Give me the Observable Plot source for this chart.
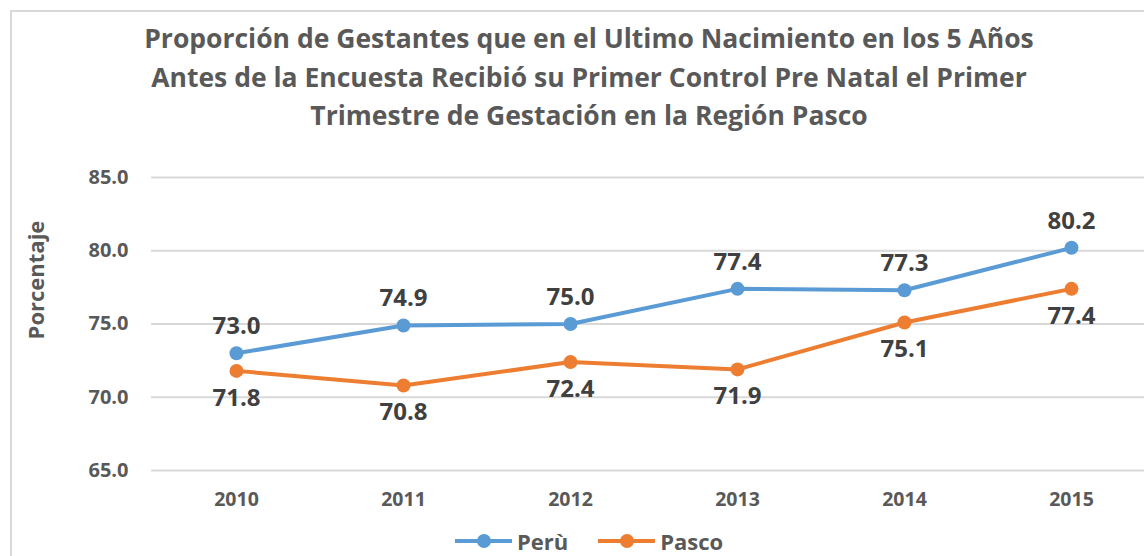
<!DOCTYPE html>
<html><head><meta charset="utf-8">
<script src="https://cdn.jsdelivr.net/npm/d3@7"></script>
<script src="https://cdn.jsdelivr.net/npm/@observablehq/plot@0.6"></script>
<style>
body{margin:0;width:1144px;height:556px;overflow:hidden;background:#fff;font-family:"Open Sans",sans-serif;position:relative}
#frame{position:absolute;left:10px;top:10px;width:1200px;height:600px;border:2px solid #d9d9d9;box-sizing:border-box}
#title{position:absolute;left:0;top:19px;width:1178px;text-align:center;font-weight:bold;font-size:26.5px;line-height:38.5px;color:#595959}
#chart{position:absolute;left:0;top:140px}
#ylabel{position:absolute;left:35px;top:280px;transform:translate(-50%,-50%) rotate(-90deg);font-weight:bold;font-size:22px;color:#595959;white-space:nowrap}
#legend{position:absolute;left:455px;top:528px;display:flex;align-items:center;font-weight:bold;font-size:22px;line-height:26px;color:#595959}
#legend .item{display:flex;align-items:center;margin-right:30px}
#legend .item span{margin-left:5px}
</style>
</head><body>
<div id="frame"></div>
<div id="title">Proporción de Gestantes que en el Ultimo Nacimiento en los 5 Años<br>Antes de la Encuesta Recibió su Primer Control Pre Natal el Primer<br>Trimestre de Gestación en la Región Pasco</div>
<div id="ylabel">Porcentaje</div>
<div id="chart"></div>
<div id="legend"></div>
<script>
const years = ["2010", "2011", "2012", "2013", "2014", "2015"];
const peru = [73.0, 74.9, 75.0, 77.4, 77.3, 80.2];
const pasco = [71.8, 70.8, 72.4, 71.9, 75.1, 77.4];
const seriesNames = ["Perù", "Pasco"];
const seriesColors = ["#5B9BD5", "#ED7D31"];
const yTicks = [65, 70, 75, 80, 85];

const peruData = years.map((year, i) => ({year, serie: seriesNames[0], value: peru[i]}));
const pascoData = years.map((year, i) => ({year, serie: seriesNames[1], value: pasco[i]}));
const data = peruData.concat(pascoData);

const chart = Plot.plot({
  width: 1144,
  height: 390,
  marginLeft: 151,
  marginRight: 0,
  marginTop: 37,
  marginBottom: 60,
  x: {type: "point", domain: years, range: [234, 1072], padding: 0},
  y: {domain: [65, 85]},
  color: {domain: seriesNames, range: seriesColors},
  style: {fontFamily: "Open Sans", fontWeight: "bold", fontSize: "20px", color: "#595959", background: "transparent", overflow: "visible"},
  marks: [
    Plot.ruleY(yTicks, {stroke: "#d9d9d9", strokeWidth: 2}),
    Plot.axisY({ticks: yTicks, tickFormat: d => d.toFixed(1), tickSize: 0, tickPadding: 23, label: null, fontSize: 20, fill: "#595959"}),
    Plot.axisX({tickSize: 0, tickPadding: 22, label: null, fontSize: 19.5, fill: "#595959"}),
    Plot.line(data, {x: "year", y: "value", z: "serie", stroke: "serie", strokeWidth: 4}),
    Plot.dot(data, {x: "year", y: "value", fill: "serie", r: 7}),
    Plot.text(peruData, {x: "year", y: "value", text: d => d.value.toFixed(1), dy: -27, fontSize: 24, fill: "#404040"}),
    Plot.text(pascoData, {x: "year", y: "value", text: d => d.value.toFixed(1), dy: 27, fontSize: 24, fill: "#404040"})
  ]
});
document.getElementById("chart").appendChild(chart);

const legend = document.getElementById("legend");
seriesNames.forEach((name, i) => {
  const item = document.createElement("div");
  item.className = "item";
  item.innerHTML = `<svg width="57" height="16"><line x1="0" x2="57" y1="8" y2="8" stroke="${seriesColors[i]}" stroke-width="4"/><circle cx="29" cy="8" r="7" fill="${seriesColors[i]}"/></svg><span>${name}</span>`;
  legend.appendChild(item);
});
</script>
</body></html>
